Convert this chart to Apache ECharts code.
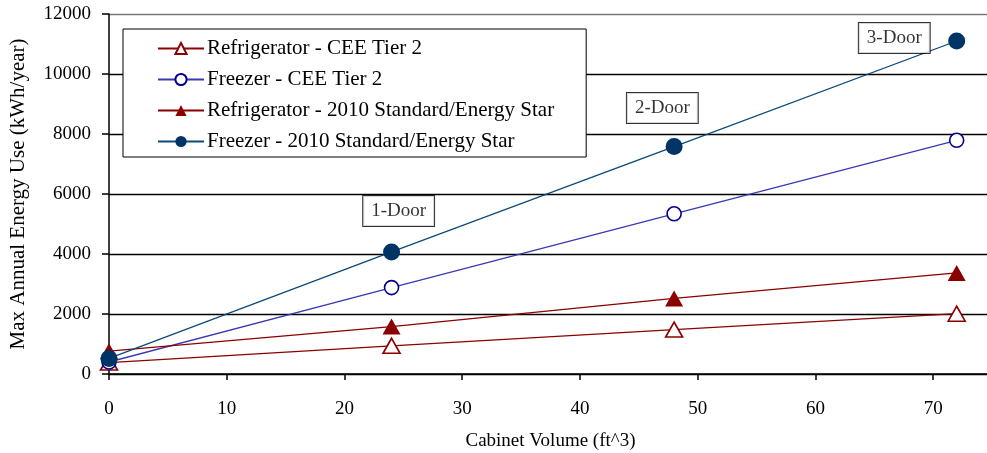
<!DOCTYPE html>
<html>
<head>
<meta charset="utf-8">
<script src="https://cdn.jsdelivr.net/npm/echarts@6/dist/echarts.min.js"></script>
<style>
  html, body { margin: 0; padding: 0; background: #fff; }
  #chart { width: 987px; height: 453px; }
</style>
</head>
<body>
<div id="chart"></div>
<script>
  // cabinet volumes (ft^3)
  var volumes = [0, 24, 48, 72];
  // max annual energy use (kWh/year)
  var refCee = [380, 940, 1480, 2010];
  var frzCee = [400, 2880, 5340, 7790];
  var refStd = [760, 1580, 2520, 3370];
  var frzStd = [520, 4070, 7580, 11100];
  var doorLabels = ['1-Door', '2-Door', '3-Door'];
  var yTicks = [0, 2000, 4000, 6000, 8000, 10000, 12000];

  var fontFam = '"Liberation Serif", "DejaVu Serif", serif';
  var red = '#8b0000';

  function pairs (vals) {
    return volumes.map(function (v, i) { return [v, vals[i]]; });
  }

  function makeSeries (name, vals, symbol, size, lineColor, markColor, filled) {
    return {
      name: name,
      type: 'line',
      data: pairs(vals),
      symbol: symbol,
      symbolSize: size,
      showAllSymbol: true,
      lineStyle: { color: lineColor, width: 1.3 },
      itemStyle: {
        color: filled ? markColor : '#fff',
        borderColor: markColor,
        borderWidth: filled ? 0 : 1.6
      },
      z: filled ? 3 : 2,
      animation: false
    };
  }

  var chart = echarts.init(document.getElementById('chart'));

  chart.setOption({
    backgroundColor: '#fff',
    textStyle: { fontFamily: fontFam },
    grid: { left: 109, right: -5, top: 14, bottom: 79, outerBoundsMode: 'none', containLabel: false },
    legend: {
      orient: 'vertical',
      left: 123,
      top: 29,
      padding: [9, 32, 5, 34],
      itemGap: 10,
      itemWidth: 46,
      itemHeight: 14,
      backgroundColor: '#fff',
      borderColor: '#000',
      borderWidth: 1,
      textStyle: { fontFamily: fontFam, fontSize: 21, color: '#000', padding: [0, 0, 0, -2] },
      data: ['Refrigerator - CEE Tier 2', 'Freezer - CEE Tier 2',
             'Refrigerator - 2010 Standard/Energy Star', 'Freezer - 2010 Standard/Energy Star']
    },
    xAxis: {
      type: 'value',
      min: 0,
      max: 75,
      interval: 10,
      name: 'Cabinet Volume (ft^3)',
      nameLocation: 'middle',
      nameGap: 58,
      nameTextStyle: { fontFamily: fontFam, fontSize: 19, color: '#000' },
      axisLine: { show: true, lineStyle: { color: '#000', width: 1.5 } },
      axisTick: { show: true, length: 6, lineStyle: { color: '#000', width: 1.5 } },
      axisLabel: {
        fontFamily: fontFam, fontSize: 19, color: '#000', margin: 26,
        formatter: function (v) { return v % 10 === 0 && v <= 70 ? String(v) : ''; }
      },
      splitLine: { show: false }
    },
    yAxis: {
      type: 'value',
      min: yTicks[0],
      max: yTicks[yTicks.length - 1],
      interval: 2000,
      name: 'Max Annual Energy Use (kWh/year)',
      nameLocation: 'middle',
      nameGap: 80,
      nameTextStyle: { fontFamily: fontFam, fontSize: 21, color: '#000' },
      axisLine: { show: true, lineStyle: { color: '#000', width: 1.5 } },
      axisTick: { show: true, length: 7, lineStyle: { color: '#000', width: 1.5 } },
      axisLabel: {
        fontFamily: fontFam, fontSize: 19, color: '#000', margin: 18,
        formatter: function (v) { return String(v); }
      },
      splitLine: {
        show: true,
        lineStyle: {
          color: yTicks.map(function (t, i) { return i === yTicks.length - 1 ? '#777' : '#000'; }),
          width: 1.3
        }
      }
    },
    series: [
      makeSeries('Refrigerator - CEE Tier 2', refCee, 'triangle', [17, 15], red, red, false),
      makeSeries('Freezer - CEE Tier 2', frzCee, 'circle', 14, '#3a3ab0', '#00008b', false),
      makeSeries('Refrigerator - 2010 Standard/Energy Star', refStd, 'triangle', [18, 16], red, red, true),
      makeSeries('Freezer - 2010 Standard/Energy Star', frzStd, 'circle', 17, '#0b4a7a', '#003366', true),
      {
        name: 'doors',
        type: 'scatter',
        symbolSize: 0,
        silent: true,
        animation: false,
        z: 5,
        data: [
          { value: [24.6, 5430], name: doorLabels[0] },
          { value: [47.0, 8870], name: doorLabels[1] },
          { value: [66.7, 11200], name: doorLabels[2] }
        ],
        label: {
          show: true,
          position: 'inside',
          formatter: '{b}',
          fontFamily: fontFam,
          fontSize: 19,
          color: '#000',
          backgroundColor: '#fff',
          borderColor: '#000',
          borderWidth: 1,
          padding: [6, 8, 5, 8]
        }
      }
    ]
  });
</script>
</body>
</html>
